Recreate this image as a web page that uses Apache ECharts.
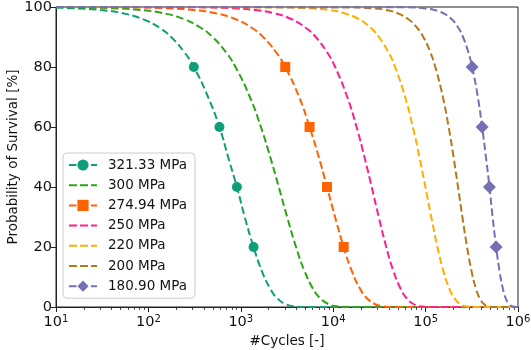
<!DOCTYPE html>
<html>
<head>
<meta charset="utf-8">
<script src="https://cdn.jsdelivr.net/npm/echarts@6/dist/echarts.min.js"></script>
<style>html,body{margin:0;padding:0;background:#fff}#c{width:531px;height:350px}</style>
</head>
<body>
<div id="c"></div>
<script>
// ---- Data (cycles N, probability of survival %) ----
const seriesNames = ['321.33 MPa','300 MPa','274.94 MPa','250 MPa','220 MPa','200 MPa','180.90 MPa'];

const curve321 = [[10,99.8],[17.8,99.5],[30.1,99],[50.9,98],[86.5,96],[133,93],[176,90],[244,85],[442,70],[729,50],[1103,30],[1689,12],[2089,6],[2466,3],[3028,1],[3793,0.2],[5000,0],[1000000,0]];
const marks321 = [[310,80],[587,60],[907,40],[1374,20]];

const curve300 = [[10,99.95],[14.1,99.9],[48.3,99.5],[82.2,99],[140,98],[240,96],[372,93],[494,90],[688,85],[876,80],[1254,70],[1650,60],[2082,50],[2576,40],[3174,30],[3961,20],[4889,12],[6066,6],[7178,3],[8842,1],[11110,0.2],[15000,0],[1000000,0]];

const curve27494 = [[10,100],[56.5,99.9],[185,99.5],[309,99],[517,98],[867,96],[1325,93],[1743,90],[2399,85],[4279,70],[6980,50],[10481,30],[15900,12],[19580,6],[23030,3],[28140,1],[35110,0.2],[48000,0],[1000000,0]];
const marks27494 = [[3029,80],[5546,60],[8570,40],[12980,20]];

const curve250 = [[10,100],[320,99.9],[906,99.5],[1419,99],[2227,98],[3505,96],[5082,93],[6462,90],[8550,85],[10488,80],[14195,70],[17895,60],[21790,50],[26095,40],[31117,30],[37530,20],[44830,12],[53800,6],[62030,3],[73960,1],[89740,0.2],[120000,0],[1000000,0]];

const curve220 = [[10,100],[2593,99.9],[6138,99.5],[8905,99],[12933,98],[18846,96],[25625,93],[31285,90],[39446,85],[46720,80],[60060,70],[72780,60],[85670,50],[99470,40],[115100,30],[134430,20],[155840,12],[181220,6],[203870,3],[235930,1],[277000,0.2],[340000,0],[1000000,0]];

const curve200 = [[10,100],[14660,99.9],[27925,99.5],[36890,99],[48780,98],[64620,96],[81340,93],[94430,90],[112300,85],[127490,80],[153800,70],[177550,60],[200620,50],[224280,40],[250150,30],[281000,20],[313760,12],[351300,6],[383700,3],[427900,1],[482500,0.2],[560000,0],[1000000,0]];

const curve18090 = [[10,100],[61960,99.9],[100900,99.5],[124640,99],[153960,98],[190600,96],[226900,93],[254000,90],[289700,85],[367500,70],[449600,50],[531400,30],[630800,12],[687300,6],[734600,3],[798000,1],[873800,0.2],[1000000,0]];
const marks18090 = [[318900,80],[409000,60],[491000,40],[580200,20]];

const xTickExponents = [1,2,3,4,5,6];
const yTicks = [0,20,40,60,80,100];

// ---- styling ----
const colors = ['#0f9f78','#2ea317','#ff6200','#ff1f8e','#ffae00','#b5791a','#7570b3'];
const symbols = ['circle','none','rect','none','none','none','diamond'];
const symSizes = [10,0,10,0,0,0,13];
const FONT = 'DejaVu Sans';
const DASH_ICON = 'path://M0,0h8v2h-8z M11,0h8v2h-8z M22,0h6v2h-6z';

function merge(curve, marks){
  const pts = curve.map(p => ({value:p, symbol:'none'}));
  (marks||[]).forEach(m => pts.push({value:m}));
  pts.sort((a,b)=>a.value[0]-b.value[0]);
  return pts;
}
const allData = [
  merge(curve321, marks321),
  merge(curve300),
  merge(curve27494, marks27494),
  merge(curve250),
  merge(curve220),
  merge(curve200),
  merge(curve18090, marks18090)
];

const minorTicks = [];
for (let e = 1; e < 6; e++) for (let k = 2; k <= 9; k++) minorTicks.push(k*Math.pow(10,e));
const majorTicks = xTickExponents.map(e => Math.pow(10,e));

const series = seriesNames.map((name,i) => ({
  name, type:'line', xAxisIndex:0, yAxisIndex:0,
  data: allData[i],
  smooth: 0.5,
  showSymbol: true, showAllSymbol: true,
  symbol: symbols[i], symbolSize: symSizes[i],
  itemStyle:{color:colors[i]},
  lineStyle:{color:colors[i], width:2, type:[7.5,3.5]},
  emphasis:{disabled:true},
  clip:true, animation:false
}));

const legendData = seriesNames.map((name,i) => symbols[i] === 'none'
  ? {name, icon: DASH_ICON, itemStyle:{color:colors[i], borderWidth:0}}
  : {name});

const chart = echarts.init(document.getElementById('c'));
chart.setOption({
  animation:false,
  textStyle:{fontFamily:FONT},
  grid:{left:56, right:13, top:7, bottom:43, outerBoundsMode:'none', containLabel:false,
        show:true, borderColor:'#222', borderWidth:1, backgroundColor:'transparent'},
  legend:{
    orient:'vertical', left:63, top:153,
    data: legendData,
    itemWidth:28, itemHeight:14, itemGap:6.2,
    padding:[5,8,5,5],
    backgroundColor:'rgba(255,255,255,0.85)',
    borderColor:'#cccccc', borderWidth:1, borderRadius:4,
    textStyle:{fontFamily:FONT, fontSize:13.5, color:'#111', padding:[0,0,0,6]}
  },
  xAxis:[{
    type:'log', logBase:10, min:10, max:1000000,
    name:'#Cycles [-]', nameLocation:'middle', nameGap:25,
    nameTextStyle:{fontFamily:FONT, fontSize:13.5, color:'#111'},
    axisLine:{show:true, onZero:false, lineStyle:{color:'#222', width:1}},
    axisTick:{show:true, inside:false, length:5, lineStyle:{color:'#222', width:1}, customValues: majorTicks},
    axisLabel:{
      color:'#111', margin:7, customValues: majorTicks,
      formatter: v => '{b|10}{s|' + Math.round(Math.log10(v)) + '}',
      rich:{ b:{fontFamily:FONT, fontSize:14.5, color:'#111'}, s:{fontFamily:FONT, fontSize:10, color:'#111', verticalAlign:'top', padding:[0,0,7,0]} }
    },
    splitLine:{show:false}
  },{
    type:'log', logBase:10, min:10, max:1000000, position:'bottom',
    axisLine:{show:false},
    axisTick:{show:true, inside:false, length:3, lineStyle:{color:'#222', width:0.8}, customValues: minorTicks},
    axisLabel:{show:false},
    splitLine:{show:false}
  }],
  yAxis:{
    type:'value', min:0, max:100, interval:20,
    name:'Probability of Survival [%]', nameLocation:'middle', nameGap:36, nameRotate:90,
    nameMoveOverlap:false,
    nameTextStyle:{fontFamily:FONT, fontSize:13.5, color:'#111'},
    axisLine:{show:true, lineStyle:{color:'#222', width:1}},
    axisTick:{show:true, inside:false, length:5, lineStyle:{color:'#222', width:1}},
    axisLabel:{color:'#111', fontFamily:FONT, fontSize:14.5, margin:4, customValues: yTicks},
    splitLine:{show:false}
  },
  series
});
</script>
</body>
</html>
